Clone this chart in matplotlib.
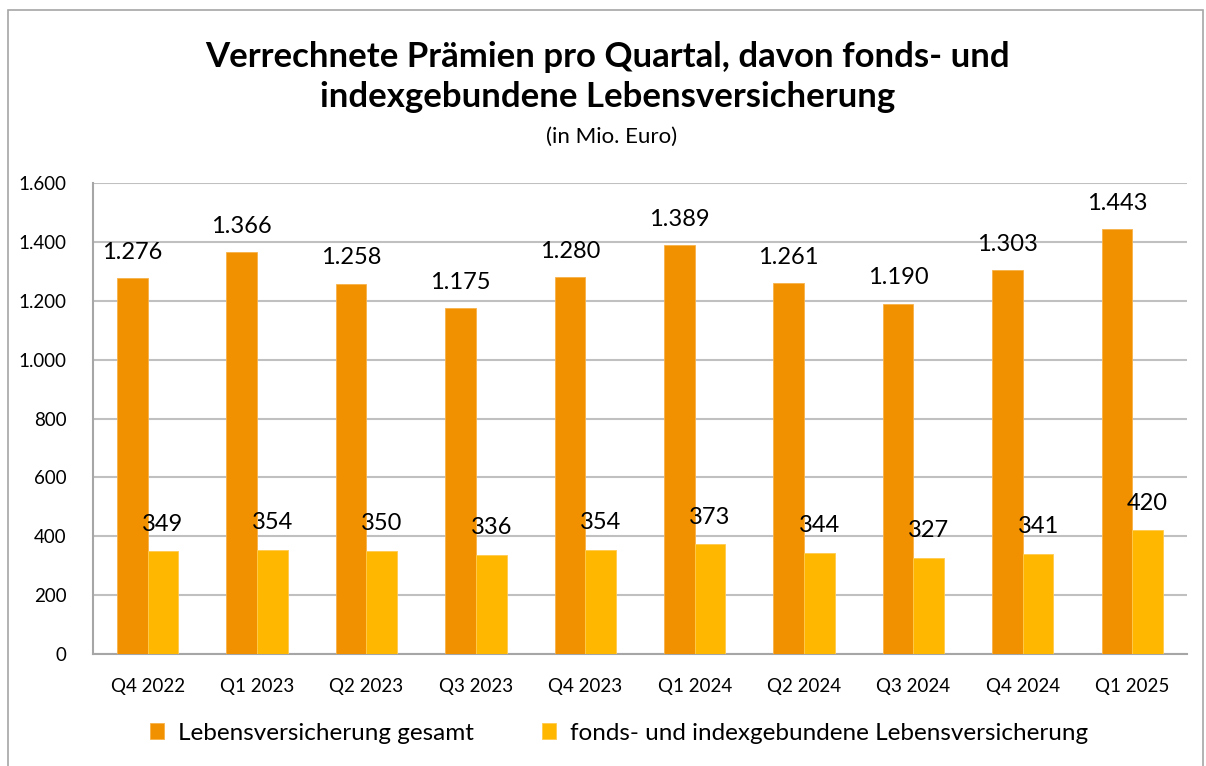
import matplotlib.pyplot as plt
import numpy as np
from matplotlib.patches import Rectangle

# Data (in Mio. Euro)
quarters = ['Q4 2022', 'Q1 2023', 'Q2 2023', 'Q3 2023', 'Q4 2023',
            'Q1 2024', 'Q2 2024', 'Q3 2024', 'Q4 2024', 'Q1 2025']
leben_gesamt = [1276, 1366, 1258, 1175, 1280, 1389, 1261, 1190, 1303, 1443]
fonds_index = [349, 354, 350, 336, 354, 373, 344, 327, 341, 420]
y_ticks = [0, 200, 400, 600, 800, 1000, 1200, 1400, 1600]

c_gesamt = '#F29100'
c_fonds = '#FFB700'
c_grid = '#C0C0C0'


def de_fmt(v):
    return f'{v:,}'.replace(',', '.')


plt.rcParams['font.family'] = ['Lato', 'DejaVu Sans']

fig = plt.figure(figsize=(12.06, 7.66), dpi=100)
ax = fig.add_axes([0.0771, 0.1462, 0.9071, 0.6149])

x = np.arange(len(quarters))
w = 0.28
b1 = ax.bar(x - w / 2, leben_gesamt, w, color=c_gesamt, edgecolor='#F7B24A',
            linewidth=0.6, label='Lebensversicherung gesamt', zorder=3)
b2 = ax.bar(x + w / 2, fonds_index, w, color=c_fonds, edgecolor='#FFCB4D',
            linewidth=0.6, label='fonds- und indexgebundene Lebensversicherung', zorder=3)

for rect, v in zip(b1, leben_gesamt):
    ax.annotate(de_fmt(v), (rect.get_x() + rect.get_width() / 2, v),
                xytext=(0, 11), textcoords='offset points', ha='center',
                va='bottom', fontsize=17, color='black')
for rect, v in zip(b2, fonds_index):
    ax.annotate(de_fmt(v), (rect.get_x() + rect.get_width() / 2, v),
                xytext=(0, 12), textcoords='offset points', ha='center',
                va='bottom', fontsize=17, color='black')

ax.set_xlim(-0.5, len(quarters) - 0.5)
ax.set_ylim(0, 1600)
ax.set_yticks(y_ticks)
ax.set_yticklabels([de_fmt(t) for t in y_ticks])
ax.set_xticks(x)
ax.set_xticklabels(quarters)
ax.tick_params(axis='both', length=0, labelsize=13.5, colors='black')
ax.tick_params(axis='y', pad=19)
ax.tick_params(axis='x', pad=17)

ax.grid(axis='y', color=c_grid, linewidth=1.5, zorder=0)
for s in ['top', 'right']:
    ax.spines[s].set_visible(False)
ax.spines['left'].set_color('#A6A6A6')
ax.spines['bottom'].set_color('#A6A6A6')
ax.spines['left'].set_linewidth(1.5)
ax.spines['bottom'].set_linewidth(1.5)

fig.text(0.504, 0.899, 'Verrechnete Prämien pro Quartal, davon fonds- und\nindexgebundene Lebensversicherung',
         ha='center', va='center', fontsize=25, fontweight='bold', linespacing=1.3)
fig.text(0.507, 0.821, '(in Mio. Euro)', ha='center', va='center', fontsize=16)

fig.legend(handles=[b1, b2], loc='center', bbox_to_anchor=(0.513, 0.043), ncol=2,
           frameon=False, fontsize=17.5, handlelength=0.6, handleheight=0.6,
           columnspacing=2.8, handletextpad=0.55)

# outer chart border
fig.patches.append(Rectangle((8 / 1206, -0.05), 1195 / 1206, 1.05 - 10 / 766,
                             transform=fig.transFigure, fill=False,
                             edgecolor='#A6A6A6', linewidth=1.2))

fig.savefig('out.png', dpi=100)
